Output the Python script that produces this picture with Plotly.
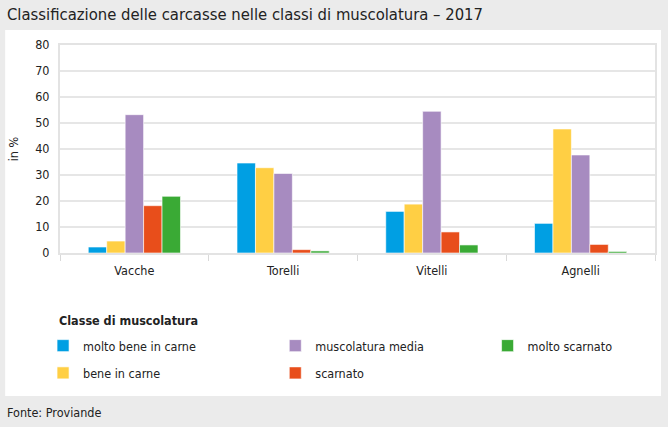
import plotly.graph_objects as go

categories = ["Vacche", "Torelli", "Vitelli", "Agnelli"]
series_names = ["molto bene in carne", "bene in carne", "muscolatura media", "scarnato", "molto scarnato"]
molto_bene = [2.3, 34.6, 16.0, 11.4]
bene = [4.6, 32.8, 18.8, 47.7]
media = [53.2, 30.6, 54.5, 37.7]
scarnato = [18.2, 1.3, 8.1, 3.3]
molto_scarnato = [21.8, 0.8, 3.1, 0.6]
y_ticks = [0, 10, 20, 30, 40, 50, 60, 70, 80]

values = [molto_bene, bene, media, scarnato, molto_scarnato]
colors = ["#009FE3", "#FFCF44", "#A78BC0", "#E84E1B", "#3AAA35"]
legends = ["legend", "legend", "legend2", "legend2", "legend3"]

W, H = 668, 427
L, R, T, B = 60, 11, 45, 174
PW, PH = W - L - R, H - T - B

def px(x):
    return (x - L) / PW

def py(y):
    return (H - B - y) / PH

FONT = "Liberation Sans Narrow, DejaVu Sans Condensed, Roboto Condensed, sans-serif"

fig = go.Figure()
for name, vals, col, lg in zip(series_names, values, colors, legends):
    fig.add_trace(go.Bar(
        x=categories, y=vals, name=name,
        marker=dict(color=col, line=dict(color="rgba(255,255,255,0.6)", width=1)),
        legend=lg, legendgroup=name,
    ))

leg_common = dict(font=dict(family=FONT, size=12.5, color="#222"), bgcolor="rgba(0,0,0,0)",
                  tracegroupgap=8, yanchor="top", xanchor="left", orientation="v")

fig.update_layout(
    width=W, height=H,
    margin=dict(l=L, r=R, t=T, b=B),
    paper_bgcolor="#ebebeb",
    plot_bgcolor="white",
    barmode="group", bargap=0.38, bargroupgap=0,
    font=dict(family=FONT, size=12.5, color="#222"),
    legend=dict(x=px(43), y=py(331), **leg_common),
    legend2=dict(x=px(276), y=py(331), **leg_common),
    legend3=dict(x=px(489), y=py(331), **leg_common),
    xaxis=dict(showline=True, linecolor="#e3e3e3", linewidth=2, mirror=True,
               ticks="outside", tickson="boundaries", ticklen=6, tickcolor="#d9d9d9",
               ticklabelstandoff=5,
               tickfont=dict(family=FONT, size=12.5, color="#222"), showgrid=False),
    yaxis=dict(range=[0, 80], tickvals=y_ticks, showline=True, linecolor="#e3e3e3", linewidth=2,
               mirror=True, gridcolor="#e6e6e6", gridwidth=2, zeroline=False,
               ticklabelstandoff=6,
               tickfont=dict(family=FONT, size=12.5, color="#222"),
               title=dict(text="in %", font=dict(family=FONT, size=12.5, color="#222"), standoff=14)),
    shapes=[dict(type="rect", xref="paper", yref="paper", x0=px(5), x1=px(663), y0=py(396), y1=py(30),
                 fillcolor="white", line=dict(width=0), layer="below")],
    annotations=[
        dict(text="Classificazione delle carcasse nelle classi di muscolatura – 2017", xref="paper", yref="paper",
             x=px(5), y=py(14), xanchor="left", yanchor="middle", showarrow=False,
             font=dict(family=FONT, size=16.5, color="#222")),
        dict(text="<b>Classe di muscolatura</b>", xref="paper", yref="paper",
             x=px(57), y=py(320), xanchor="left", yanchor="middle", showarrow=False,
             font=dict(family=FONT, size=12.5, color="#222")),
        dict(text="Fonte: Proviande", xref="paper", yref="paper",
             x=px(5), y=py(412), xanchor="left", yanchor="middle", showarrow=False,
             font=dict(family=FONT, size=12.5, color="#222")),
    ],
)

fig.write_html("out.html", config={"displayModeBar": False},
               post_script="document.body.style.margin='0';document.body.style.overflow='hidden';")
